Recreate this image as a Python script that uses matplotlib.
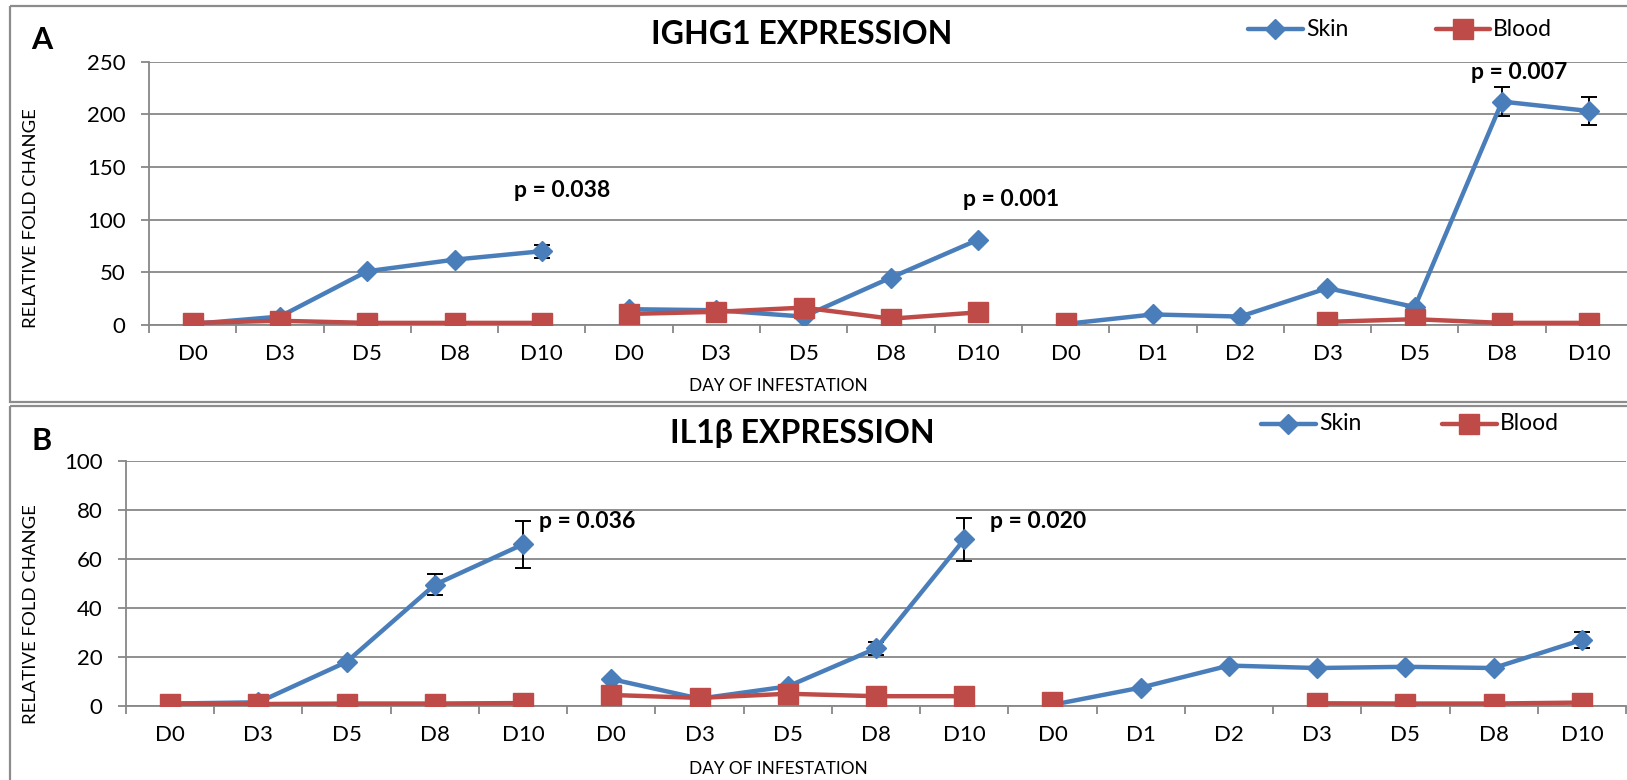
import numpy as np
import matplotlib
matplotlib.use("Agg")
import matplotlib.pyplot as plt
from matplotlib.lines import Line2D
from matplotlib.patches import Rectangle

plt.rcParams['font.family'] = ['Lato', 'DejaVu Sans']

# ---- data -------------------------------------------------------------
days = ["D0", "D3", "D5", "D8", "D10",
        "D0", "D3", "D5", "D8", "D10",
        "D0", "D1", "D2", "D3", "D5", "D8", "D10"]
group_sizes = [5, 5, 7]
nan = np.nan

ighg1_skin = [1, 8, 51, 62, 70,
              15, 14, 8, 45, 81,
              1, 10, 8, 35, 17, 212, 203]
ighg1_skin_err = [0, 0, 0, 0, 6,
                  0, 0, 0, 0, 0,
                  0, 0, 0, 0, 0, 14, 13]
ighg1_blood = [2, 4, 2, 2, 2,
               10.5, 12.5, 16.5, 6, 12,
               2, nan, nan, 3, 5.5, 2, 2]

il1b_skin = [1, 1.5, 18, 49.5, 66,
             11, 3, 8, 23.5, 68,
             0.5, 7.5, 16.5, 15.5, 16, 15.5, 27]
il1b_skin_err = [0, 0, 0, 4.3, 9.7,
                 0, 0, 0, 2.5, 8.8,
                 0, 0, 0, 0, 0, 0, 3.3]
il1b_blood = [1, 0.8, 1, 1, 1.2,
              4.5, 3.3, 5, 4, 4,
              1.8, nan, nan, 1.1, 1, 1, 1.4]

# p-value annotations: (x position, y position, text)
ighg1_pvals = [(4.23, 128, "p = 0.038"), (9.38, 119, "p = 0.001"), (15.2, 240, "p = 0.007")]
il1b_pvals = [(4.73, 75.5, "p = 0.036"), (9.84, 75.5, "p = 0.020")]

# ---- style -------------------------------------------------------------
W, H = 1627, 780
BLUE = "#4A7EBB"
RED = "#BE4B48"
GRID = "#878787"
BOX = "#8c8c8c"
LW = 3.2
DMS = 9.8    # diamond marker size
SMS = 14     # square marker size
TICK_FS = 16
P_FS = 16.5
LEG_FS = 16.5

fig = plt.figure(figsize=(W / 100, H / 100), dpi=100)

# overlay in pixel coordinates for frames, titles and legends
ov = fig.add_axes([0, 0, 1, 1])
ov.set_xlim(0, W)
ov.set_ylim(H, 0)
ov.axis("off")
ov.patch.set_alpha(0)


def px_rect(left, top, right, bottom):
    return [left / W, 1 - bottom / H, (right - left) / W, (bottom - top) / H]


def draw_panel(rect, ymax, ystep, skin, skin_err, blood, pvals):
    ax = fig.add_axes(rect)
    ax.patch.set_alpha(0)
    x = np.arange(len(days))
    start = 0
    for n in group_sizes:
        sl = slice(start, start + n)
        ax.plot(x[sl], np.array(skin, float)[sl], color=BLUE, lw=LW,
                marker="D", ms=DMS, mec=BLUE, mfc=BLUE, zorder=3,
                solid_joinstyle="round", solid_capstyle="round")
        start += n
    err = np.array(skin_err, float)
    m = err > 0
    ax.errorbar(x[m], np.array(skin, float)[m], yerr=err[m], fmt="none",
                ecolor="black", elinewidth=1.4, capsize=5.5, capthick=1.4,
                zorder=2.5)
    start = 0
    for n in group_sizes:
        sl = slice(start, start + n)
        ax.plot(x[sl], np.array(blood, float)[sl], color=RED, lw=LW,
                marker="s", ms=SMS, mec=RED, mfc=RED, zorder=4,
                solid_joinstyle="round", solid_capstyle="round")
        start += n
    for px, py, t in pvals:
        ax.text(px, py, t, ha="center", va="center", fontsize=P_FS,
                fontweight="bold", zorder=5)

    ax.set_xlim(-0.5, len(days) - 0.5)
    ax.set_ylim(0, ymax)
    ax.set_yticks(np.arange(0, ymax + 1, ystep))
    ax.set_xticks(x)
    ax.set_xticklabels(days)
    ax.set_xticks(np.arange(-0.5, len(days), 1.0), minor=True)
    ax.tick_params(axis="x", which="major", length=0, pad=14, labelsize=TICK_FS)
    ax.tick_params(axis="x", which="minor", length=5.5, width=1.3,
                   color=GRID, direction="out")
    ax.tick_params(axis="y", which="major", length=5.8, width=1.3,
                   color=GRID, direction="out", pad=11, labelsize=TICK_FS)
    ax.grid(axis="y", color=GRID, lw=1.3)
    ax.set_axisbelow(True)
    for s in ("top", "right"):
        ax.spines[s].set_visible(False)
    for s in ("left", "bottom"):
        ax.spines[s].set_color(GRID)
        ax.spines[s].set_linewidth(1.3)
    return ax


draw_panel(px_rect(149, 61.5, 1633, 325), 250, 50,
           ighg1_skin, ighg1_skin_err, ighg1_blood, ighg1_pvals)
draw_panel(px_rect(126, 461, 1626, 706), 100, 20,
           il1b_skin, il1b_skin_err, il1b_blood, il1b_pvals)

# panel frames
ov.add_patch(Rectangle((10, 6), W, 396, fill=False, ec=BOX, lw=1.6))
ov.add_patch(Rectangle((10, 406), W, 400, fill=False, ec=BOX, lw=1.6))

# panel letters, titles, axis labels
for letter, ly in (("A", 40), ("B", 441)):
    ov.text(42, ly, letter, ha="center", va="center", fontsize=22,
            fontweight="bold")
ov.text(802, 34, "IGHG1 EXPRESSION", ha="center", va="center",
        fontsize=23, fontweight="bold")
ov.text(802, 434, "IL1β EXPRESSION", ha="center", va="center",
        fontsize=23, fontweight="bold")
for cy in (218, 614):
    ov.text(31, cy, "RELATIVE FOLD CHANGE", ha="center", va="center",
            rotation=90, fontsize=13.3)
for cy in (386, 769):
    ov.text(778, cy, "DAY OF INFESTATION", ha="center", va="center",
            fontsize=12.4)


def legend_entry(x0, x1, y, color, marker, ms, label):
    ov.add_line(Line2D([x0, x1], [y, y], color=color, lw=LW,
                       solid_capstyle="round"))
    ov.add_line(Line2D([(x0 + x1) / 2], [y], color=color, marker=marker,
                       ms=ms, mec=color, mfc=color, lw=0))
    ov.text(x1 + 3, y, label, ha="left", va="center", fontsize=LEG_FS)


legend_entry(1248, 1303, 29, BLUE, "D", DMS, "Skin")
legend_entry(1436, 1490, 29, RED, "s", SMS, "Blood")
legend_entry(1261, 1316, 424, BLUE, "D", DMS, "Skin")
legend_entry(1442, 1497, 424, RED, "s", SMS, "Blood")

fig.savefig("out.png", dpi=100)
